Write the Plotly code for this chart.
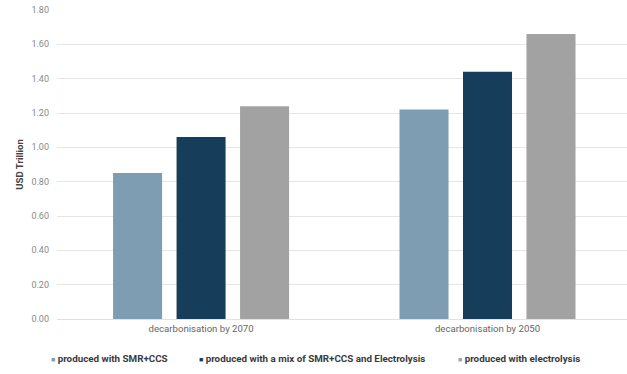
import plotly.graph_objects as go

categories = ["decarbonisation by 2070", "decarbonisation by 2050"]
series_names = [
    "produced with SMR+CCS",
    "produced with a mix of SMR+CCS and Electrolysis",
    "produced with electrolysis",
]
smr_ccs = [0.85, 1.22]
mix = [1.06, 1.44]
electrolysis = [1.24, 1.66]
tick_vals = [0, 0.2, 0.4, 0.6, 0.8, 1.0, 1.2, 1.4, 1.6, 1.8]
tick_text = ["0.00", "0.20", "0.40", "0.60", "0.80", "1.00", "1.20", "1.40", "1.60", "1.80"]

colors = ["#7e9db3", "#163d59", "#a2a2a2"]
FONT = "Roboto"

fig = go.Figure()
for name, vals, col in zip(series_names, [smr_ccs, mix, electrolysis], colors):
    fig.add_trace(go.Bar(x=categories, y=vals, name=name, marker_color=col,
                         marker_line_width=0, showlegend=False))

# Compact legend row beneath the axis: small coloured square + label
legend_x = [49, 197, 456]
for name, col, px in zip(series_names, colors, legend_x):
    fig.add_annotation(
        xref="paper", yref="paper",
        x=(px - 57) / 570, y=-(358 - 319) / 309,
        xanchor="left", yanchor="middle", showarrow=False,
        text=f"<span style='color:{col};font-size:7px'>■</span> <b>{name}</b>",
        font=dict(family=FONT, size=9.8, color="#3a3a3a"),
    )

fig.update_layout(
    width=627, height=374,
    margin=dict(l=57, r=0, t=10, b=55, autoexpand=False),
    paper_bgcolor="white", plot_bgcolor="white",
    barmode="group", bargap=0.335, bargroupgap=0.228,
    font=dict(family=FONT, size=9, color="#555555"),
    xaxis=dict(range=[-0.503, 1.487], showline=True, linecolor="#e2e2e2", linewidth=1,
               tickfont=dict(family=FONT, size=9.6, color="#666666"), ticks=""),
    yaxis=dict(range=[0, 1.8], tickvals=tick_vals, ticktext=tick_text,
               showgrid=True, gridcolor="#e6e6e6", gridwidth=1,
               zeroline=False, ticks="", ticklen=0, ticklabelstandoff=7,
               tickfont=dict(family=FONT, size=9, color="#8a8a8a"),
               title=dict(text="<b>USD Trillion</b>", font=dict(family=FONT, size=9.6, color="#444444"),
                          standoff=6)),
    showlegend=False,
)

fig.write_html("out.html")
